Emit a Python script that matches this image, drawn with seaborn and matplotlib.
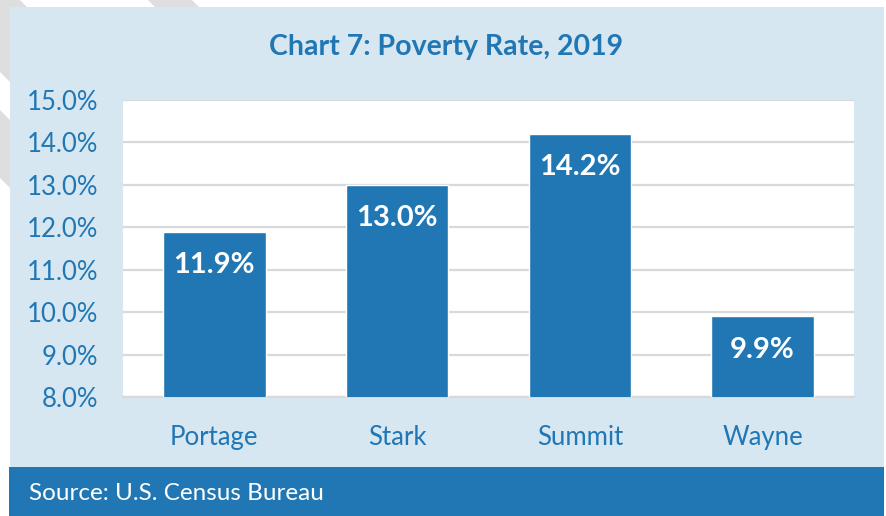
import numpy as np
import pandas as pd
import matplotlib
matplotlib.use("Agg")
from matplotlib import pyplot as plt
from matplotlib.patches import Rectangle, Polygon
import seaborn as sns

counties = ["Portage", "Stark", "Summit", "Wayne"]
poverty_rate = [11.9, 13.0, 14.2, 9.9]
y_ticks = [8, 9, 10, 11, 12, 13, 14, 15]

blue = "#2077b4"
panel_bg = "#d6e7f1"

sns.set_style("white")
plt.rcParams["font.family"] = ["Lato", "DejaVu Sans"]

W, H = 887, 516
fig = plt.figure(figsize=(W / 100, H / 100), dpi=100)
fig.patch.set_facecolor("white")

# faint diagonal watermark stripes in the outer margin (pixel coords, y down)
def px(x, y):
    return (x / W, 1 - y / H)

for c1, c2 in [(-178, -110), (-72, 20), (148, 192)]:
    band = Polygon([px(c1, 0), px(c2, 0), px(c2 + 700, 700), px(c1 + 700, 700)],
                   closed=True, transform=fig.transFigure, facecolor="#dedede",
                   edgecolor="none", zorder=0)
    fig.patches.append(band)

# light blue panel and dark footer band
x0, y0 = px(10, 467)
x1, y1 = px(884, 7)
fig.patches.append(Rectangle((x0, y0), x1 - x0, y1 - y0, transform=fig.transFigure,
                             facecolor=panel_bg, edgecolor="none", zorder=1))
fx0, fy0 = px(9, 516)
fx1, fy1 = px(884, 467)
fig.patches.append(Rectangle((fx0, fy0), fx1 - fx0, fy1 - fy0, transform=fig.transFigure,
                             facecolor=blue, edgecolor="none", zorder=1))
fig.text(29 / W, 1 - 493 / H, "Source: U.S. Census Bureau", color="white",
         fontsize=17.5, va="center", ha="left", zorder=3)

fig.text(446 / W, 1 - 47 / H, "Chart 7: Poverty Rate, 2019", color=blue,
         fontsize=20.5, fontweight="bold", ha="center", va="center", zorder=3)

ax_l, ax_r = 123 / W, 854 / W
ax_b, ax_t = 1 - 397 / H, 1 - 100 / H
ax = fig.add_axes([ax_l, ax_b, ax_r - ax_l, ax_t - ax_b], zorder=2)
ax.set_facecolor("white")

df = pd.DataFrame({"county": counties, "rate": poverty_rate})
sns.barplot(data=df, x="county", y="rate", color=blue, width=0.56,
            saturation=1, ax=ax, zorder=3)

ax.set_ylim(8, 15)
ax.set_yticks(y_ticks)
ax.set_yticklabels([f"{t:.1f}%" for t in y_ticks])
ax.grid(axis="y", color="#d9d9d9", linewidth=1.6, zorder=0)
ax.set_axisbelow(True)
for s in ["left", "right", "top"]:
    ax.spines[s].set_visible(False)
ax.spines["bottom"].set_color("#d9d9d9")
ax.spines["bottom"].set_linewidth(1.6)
ax.tick_params(axis="y", length=0, pad=18, labelsize=18.5, labelcolor=blue)
ax.tick_params(axis="x", length=0, pad=20, labelsize=18.5, labelcolor=blue)
ax.set_xlabel("")
ax.set_ylabel("")

for i, v in enumerate(poverty_rate):
    ax.annotate(f"{v:.1f}%", xy=(i, v), xytext=(0, -24), textcoords="offset points",
                ha="center", va="center", color="white", fontsize=21,
                fontweight="bold", zorder=4)

fig.savefig("out.png", dpi=100)
